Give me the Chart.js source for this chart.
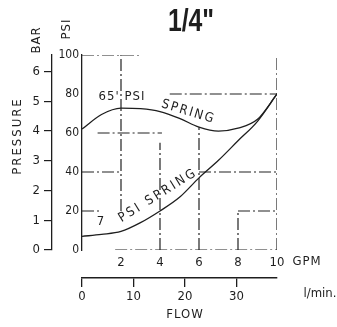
<!DOCTYPE html>
<html>
<head>
<meta charset="utf-8">
<script src="https://cdn.jsdelivr.net/npm/chart.js@4/dist/chart.umd.min.js"></script>
<style>
  html, body { margin: 0; padding: 0; background: #fff; }
  #wrap { width: 337px; height: 327px; position: relative; }
</style>
</head>
<body>
<div id="wrap"><canvas id="flowChart"></canvas></div>
<script>
// flow in GPM, pressure in PSI
const gpm = [0, 1, 2, 3, 4, 5, 6, 7, 8, 9, 10];
const spring65 = [62, 69.5, 72.8, 72.5, 71, 67.5, 63, 61, 62.5, 67, 80];
const spring7 = [7, 8, 9.5, 14, 20, 27, 37, 46, 56, 66, 80];

const gpmTicks = [2, 4, 6, 8, 10];
const psiTicks = [0, 20, 40, 60, 80, 100];
const barTicks = [0, 1, 2, 3, 4, 5, 6];
const lpmTicks = [0, 10, 20, 30];
const LPM_PER_GPM = 3.785;

// partial guide lines: [psi, gpmFrom, gpmTo] / [gpm, psiFrom, psiTo]
const hGuides = [[100, 0, 3], [80, 4.5, 10], [60, 0.8, 4.1], [40, 0, 2], [40, 6, 10], [20, 0, 1], [20, 8, 10], [0, 1.7, 10]];
const vGuides = [[2, 20, 100], [4, 0, 55], [6, 0, 63], [8, 0, 20], [10, 0, 100]];

const ink = '#1e1e1e';
const FONT = "'Liberation Sans Narrow', 'DejaVu Sans Condensed', 'Liberation Sans', sans-serif";

const guideSets = [
  ...hGuides.map(([p, a, b]) => ({ data: [{ x: a, y: p }, { x: b, y: p }] })),
  ...vGuides.map(([g, a, b]) => ({ data: [{ x: g, y: a }, { x: g, y: b }] }))
].map(d => Object.assign(d, {
  borderColor: '#222', borderWidth: 1.2, borderDash: [12, 3, 2, 3],
  pointRadius: 0, tension: 0
}));

const curve = (vals) => ({
  data: gpm.map((g, i) => ({ x: g, y: vals[i] })),
  borderColor: ink,
  borderWidth: 1.3,
  pointRadius: 0,
  cubicInterpolationMode: 'monotone'
});

// text that the sheet has outside the axes
const sheetText = {
  id: 'sheetText',
  afterDraw(chart) {
    const { ctx, scales: { x, y } } = chart;
    const put = (txt, px, py, size, angle, spacing) => {
      ctx.save();
      ctx.translate(px, py);
      ctx.rotate(angle * Math.PI / 180);
      ctx.font = size + 'px ' + FONT;
      ctx.letterSpacing = (spacing || 0) + 'px';
      ctx.fillText(txt, 0, 0);
      ctx.restore();
    };
    ctx.save();
    ctx.fillStyle = ink;
    ctx.textAlign = 'center';
    ctx.textBaseline = 'middle';

    // title
    ctx.save();
    ctx.translate(191, 22);
    ctx.scale(0.8, 1);
    ctx.font = "bold 31px 'Liberation Sans', Arial, sans-serif";
    ctx.fillText('1/4"', 0, 0);
    ctx.restore();

    // curve labels
    put("65' PSI", x.getPixelForValue(2.05), y.getPixelForValue(78.5), 13, 0, 1);
    put('SPRING', x.getPixelForValue(5.46), y.getPixelForValue(70.8), 13, 17, 2);
    put('7', x.getPixelForValue(0.95), y.getPixelForValue(14.4), 13, 0, 0);
    put('PSI SPRING', x.getPixelForValue(3.9), y.getPixelForValue(28), 13, -32, 2.5);

    // axis names
    put('BAR', 37, 40, 13, -90, 1);
    put('PSI', 67, 29, 13, -90, 1);
    put('PRESSURE', 18, 136, 13, -90, 2);
    put('GPM', 307, 262, 13, 0, 1);
    put('l/min.', 320, 294, 13, 0, 0);
    put('FLOW', 185, 315, 13, 0, 1);
    ctx.restore();
  }
};

new Chart(document.getElementById('flowChart'), {
  type: 'line',
  data: {
    datasets: [curve(spring65), curve(spring7), ...guideSets]
  },
  options: {
    responsive: true,
    maintainAspectRatio: false,
    animation: false,
    layout: { padding: { top: 55, right: 60, left: 0, bottom: 0 } },
    plugins: { legend: { display: false }, tooltip: { enabled: false } },
    scales: {
      x: {
        type: 'linear', position: 'bottom', min: 0, max: 10,
        afterBuildTicks: s => { s.ticks = gpmTicks.map(v => ({ value: v })); },
        afterFit: s => { s.height = 28; },
        grid: { display: false, drawTicks: false },
        border: { display: false },
        ticks: { color: ink, padding: 5, autoSkip: false, maxRotation: 0, font: { family: FONT, size: 13 } }
      },
      lpm: {
        type: 'linear', position: 'bottom', weight: 1,
        min: 0, max: 10 * LPM_PER_GPM,
        afterBuildTicks: s => { s.ticks = lpmTicks.map(v => ({ value: v })); },
        afterFit: s => { s.height = 49; },
        grid: { display: true, drawOnChartArea: false, drawTicks: true, tickLength: 9, color: ink, lineWidth: 1.3 },
        border: { display: true, color: ink, width: 1.4 },
        ticks: { color: ink, padding: 2, autoSkip: false, maxRotation: 0, font: { family: FONT, size: 13 } }
      },
      y: {
        type: 'linear', position: 'left', min: 0, max: 100,
        afterBuildTicks: s => { s.ticks = psiTicks.map(v => ({ value: v })); },
        afterFit: s => { s.width = 30; },
        grid: { display: false, drawTicks: false },
        border: { display: true, color: ink, width: 1.3 },
        ticks: { color: ink, padding: 3, autoSkip: false, font: { family: FONT, size: 12 } }
      },
      bar: {
        type: 'linear', position: 'left', weight: 1, min: 0, max: 6.55,
        afterBuildTicks: s => { s.ticks = barTicks.map(v => ({ value: v })); },
        afterFit: s => { s.width = 52; },
        grid: { display: true, drawOnChartArea: false, drawTicks: true, tickLength: 8, color: ink, lineWidth: 1.2 },
        border: { display: true, color: ink, width: 1.3 },
        ticks: { color: ink, padding: 4, autoSkip: false, font: { family: FONT, size: 13 } }
      }
    }
  },
  plugins: [sheetText]
});
</script>
</body>
</html>
